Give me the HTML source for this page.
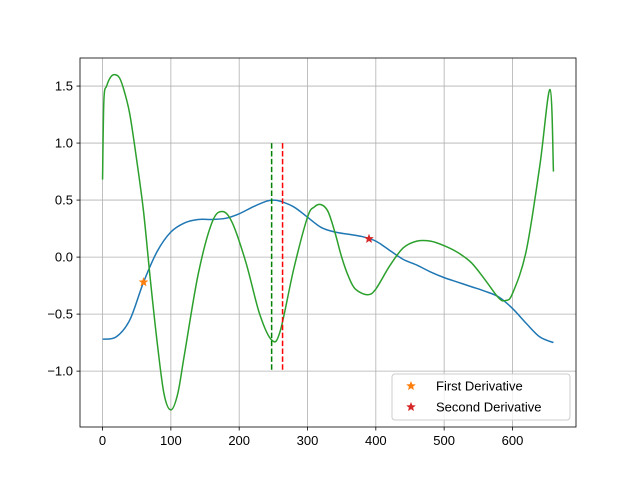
<!DOCTYPE html>
<html><head><meta charset="utf-8"><style>
body{margin:0;background:#fff;}
svg{font-family:"Liberation Sans","DejaVu Sans",sans-serif;}
</style></head><body>
<svg id="chart" width="640" height="480"></svg>
<script>
const blueX=[0,20,40,60,80,100,120,140,160,180,200,220,240,250,260,280,300,320,340,360,380,400,420,440,460,480,500,520,540,560,580,600,620,640,660];
const blueY=[-0.72,-0.70,-0.55,-0.22,0.05,0.22,0.30,0.33,0.33,0.34,0.38,0.44,0.49,0.50,0.49,0.44,0.35,0.26,0.22,0.20,0.18,0.14,0.06,-0.02,-0.07,-0.13,-0.18,-0.22,-0.26,-0.30,-0.35,-0.45,-0.58,-0.70,-0.75];
const greenX=[0,2,6,12,18,25,32,40,50,60,70,80,90,100,110,120,140,160,175,190,210,230,248,260,280,300,310,320,330,340,350,360,370,388,400,420,440,460,480,500,520,540,560,580,590,600,620,640,655,660];
const greenY=[0.68,1.38,1.50,1.58,1.60,1.57,1.45,1.25,0.85,0.40,-0.20,-0.75,-1.20,-1.34,-1.20,-0.85,-0.15,0.30,0.40,0.30,-0.05,-0.50,-0.73,-0.65,-0.10,0.35,0.44,0.46,0.40,0.22,0.00,-0.17,-0.28,-0.33,-0.28,-0.08,0.08,0.14,0.14,0.10,0.04,-0.05,-0.20,-0.36,-0.38,-0.32,0.05,0.80,1.47,0.75];
const firstDeriv=[60,-0.22];
const secondDeriv=[390,0.16];
const vlines=[247.5,263.5];
const xTicks=[0,100,200,300,400,500,600];
const yTicks=[-1.0,-0.5,0.0,0.5,1.0,1.5];
const L=80,R=576,T=58,B=427,x0=-33,x1=693,y0=-1.49,y1=1.746;
const sx=v=>L+(v-x0)/(x1-x0)*(R-L), sy=v=>B-(v-y0)/(y1-y0)*(B-T);
const svg=document.getElementById('chart');const NS='http://www.w3.org/2000/svg';
function mk(t,a,p){const e=document.createElementNS(NS,t);for(const k in a)e.setAttribute(k,a[k]);(p||svg).appendChild(e);return e;}
function path(xs,ys){const P=xs.map((x,i)=>[sx(x),sy(ys[i])]);let d='M'+P[0][0]+','+P[0][1];
for(let i=0;i<P.length-1;i++){const p0=P[Math.max(0,i-1)],p1=P[i],p2=P[i+1],p3=P[Math.min(P.length-1,i+2)];
d+=` C${p1[0]+(p2[0]-p0[0])/6},${p1[1]+(p2[1]-p0[1])/6} ${p2[0]-(p3[0]-p1[0])/6},${p2[1]-(p3[1]-p1[1])/6} ${p2[0]},${p2[1]}`;}return d;}
xTicks.forEach(v=>{const X=sx(v);
let g=mk('line',{x1:X,x2:X,y1:T,y2:B,stroke:'#b0b0b0','stroke-width':0.8});

mk('line',{x1:X,x2:X,y1:B,y2:B+3.5,stroke:'#000','stroke-width':0.8});
let t=mk('text',{x:X,y:B+18,'font-size':13,'text-anchor':'middle'});t.textContent=v;
});
yTicks.forEach(v=>{const Y=sy(v);
let g=mk('line',{x1:L,x2:R,y1:Y,y2:Y,stroke:'#b0b0b0','stroke-width':0.8});

mk('line',{x1:L-3.5,x2:L,y1:Y,y2:Y,stroke:'#000','stroke-width':0.8});
let t=mk('text',{x:L-7,y:Y+4.5,'font-size':13,'text-anchor':'end'});t.textContent=(v<0?'\u2212':'')+Math.abs(v).toFixed(1);
});
let b=mk('path',{d:path(blueX,blueY),fill:'none',stroke:'#1f77b4','stroke-width':1.5});

let g=mk('path',{d:path(greenX,greenY),fill:'none',stroke:'#2ca02c','stroke-width':1.5});

const vc=['#008000','#ff0000'];
vlines.forEach((v,i)=>{let l=mk('line',{x1:sx(v),x2:sx(v),y1:sy(1),y2:sy(-1),stroke:vc[i],'stroke-width':1.5,'stroke-dasharray':'5.5,2.4'});
});
function star(cx,cy,r,c){let pts=[];for(let i=0;i<10;i++){const a=-Math.PI/2+i*Math.PI/5,rr=i%2?r*0.42:r;pts.push((cx+rr*Math.cos(a))+','+(cy+rr*Math.sin(a)));}
return mk('polygon',{points:pts.join(' '),fill:c,stroke:c,'stroke-width':0.5});}
let s1=star(sx(firstDeriv[0]),sy(firstDeriv[1]),4.5,'#ff7f0e');
let s2=star(sx(secondDeriv[0]),sy(secondDeriv[1]),4.5,'#d62728');
mk('rect',{x:L,y:T,width:R-L,height:B-T,fill:'none',stroke:'#000','stroke-width':0.8});
let lg=mk('g',{});
mk('rect',{x:392,y:374,width:178,height:46,rx:3,fill:'#fff','fill-opacity':0.8,stroke:'#ccc','stroke-width':1},lg);
const names=['First Derivative','Second Derivative'],cols=['#ff7f0e','#d62728'];
names.forEach((n,i)=>{const Y=386+i*21;
let e=mk('g',{},lg);
const s=star(411,Y,4.5,cols[i]);e.appendChild(s);
let t=mk('text',{x:436,y:Y+4.5,'font-size':13},e);t.textContent=n;});
</script>
</body></html>
